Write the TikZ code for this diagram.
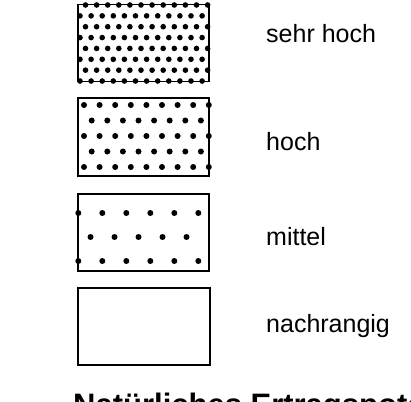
\documentclass[tikz,border=0pt]{standalone}
\usepackage{fontspec}
\setmainfont{Liberation Sans}
\usetikzlibrary{positioning}

\begin{document}
\begin{tikzpicture}[x=1pt, y=-1pt,
    legend/.style={draw, line width=1.9pt, minimum width=131pt,
      minimum height=77pt, inner sep=0pt, outer sep=0pt},
    entry/.style={font=\fontsize{25}{30}\selectfont, inner sep=0pt,
      anchor=base west}]
  \useasboundingbox (0,0) rectangle (411,401);

  \node[legend] (sehr) at (143.5,43) {};
  \node[legend, minimum height=78pt] (hoch) at (143.5,137) {};
  \node[legend] (mittel) at (143.5,232.5) {};
  \node[legend, minimum width=132pt] (nach) at (144,326.5) {};

  % Punkte: sehr hoch
  \begin{scope}[shift={(sehr.north west)}]
    \foreach \r in {0,...,7}
      \foreach \c in {0,...,11}
        \fill ({2+5.5*mod(\r+1,2)+11.1*\c},{0.5+10.86*\r}) circle (2.8pt);
  \end{scope}
  % Punkte: hoch
  \begin{scope}[shift={(hoch.north west)}]
    \foreach \r in {0,2,4}
      \foreach \c in {0,...,8}
        \fill ({6+15.6*\c},{7+15.5*\r}) circle (3pt);
    \foreach \r in {1,3}
      \foreach \c in {0,...,7}
        \fill ({13.7+15.6*\c},{7+15.5*\r}) circle (3pt);
  \end{scope}
  % Punkte: mittel
  \begin{scope}[shift={(mittel.north west)}]
    \foreach \r in {0,2}
      \foreach \c in {0,...,5}
        \fill ({0.3+24*\c},{19+24*\r}) circle (3pt);
    \foreach \c in {0,...,4}
      \fill ({12.5+24*\c},43) circle (3pt);
  \end{scope}

  \node[entry] (lsehr) at (266,43) {sehr hoch};
  \node[entry] (lhoch) at (266,150) {hoch};
  \node[entry] (lmittel) at (266,245) {mittel};
  \node[entry] (lnach) at (266,332) {nachrangig};

  \node[entry, font=\bfseries\fontsize{31}{36}\selectfont] (titel)
    at (73,415) {Natürliches Ertragspotential};
\end{tikzpicture}
\end{document}
